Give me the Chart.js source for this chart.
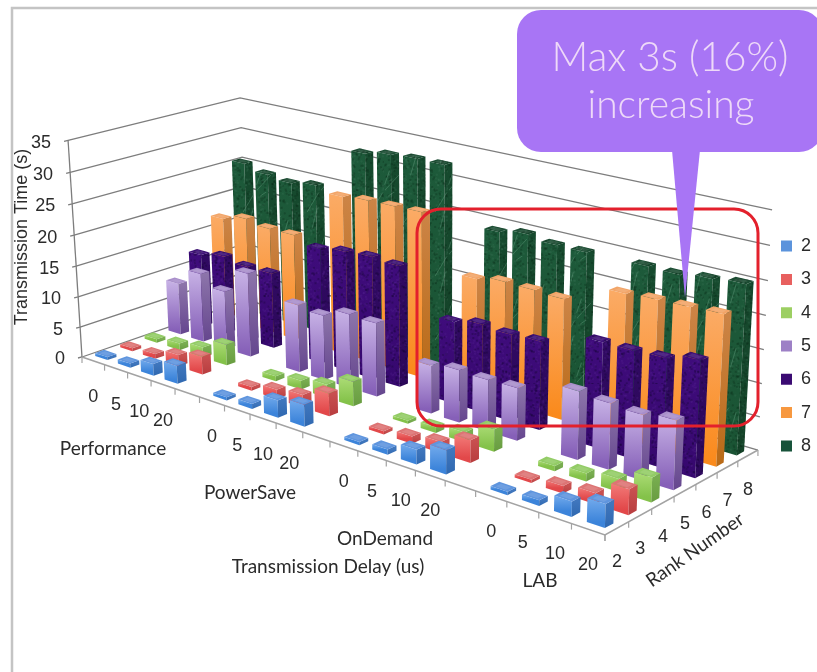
<!DOCTYPE html>
<html>
<head>
<meta charset="utf-8">
<title>Transmission Time</title>
<script src="https://cdn.jsdelivr.net/npm/chart.js@4"></script>
<style>
  html, body { margin: 0; padding: 0; background: #fff; }
  canvas { display: block; }
</style>
</head>
<body>
<canvas id="myChart" width="817" height="672"></canvas>
<script>
// delay slots, with an empty slot between the four governor groups
var delayLabels = ['0','5','10','20','','0','5','10','20','','0','5','10','20','','0','5','10','20'];
var rankLabels = ['2','3','4','5','6','7','8'];
var groupLabels = ['Performance','PowerSave','OnDemand','LAB'];

// transmission time in seconds, one list per rank
var rank2 = [0.5,0.7,1.9,2.9,null,0.5,0.8,2.7,3.4,null,0.5,0.8,2.2,3.6,null,0.5,0.8,2.2,3.4];
var rank3 = [0.5,0.8,1.9,2.9,null,0.6,1.5,2.0,3.6,null,0.5,1.1,1.7,3.4,null,0.5,1.1,1.6,3.7];
var rank4 = [0.6,1.1,1.7,3.4,null,0.8,1.4,2.1,3.9,null,0.5,0.9,1.5,3.4,null,0.8,1.2,1.9,3.6];
var rank5 = [8.6,11.4,9.6,13.7,null,10.9,10.4,11.8,11.6,null,7.5,8.1,7.9,8.0,null,10.2,9.8,9.5,10.1];
var rank6 = [12.2,13.0,12.4,12.4,null,18.6,19.2,19.5,19.2,null,12.8,13.6,13.3,13.5,null,15.9,15.9,16.1,17.1];
var rank7 = [17.1,18.1,17.5,17.5,null,25.7,26.1,26.2,26.3,null,18.1,18.8,18.7,18.5,null,21.6,21.9,22.0,22.2];
var rank8 = [25.3,24.4,23.9,24.5,null,31.5,32.2,32.5,32.5,null,24.1,24.8,24.2,24.2,null,24.3,24.2,24.7,25.1];
var rankSeries = [rank2, rank3, rank4, rank5, rank6, rank7, rank8];

var legendColors = ['#5b93dc','#e8605f','#9ccf62','#9d80c6','#3a0a72','#f7983f','#17533a'];

// face colours per rank
var faces = [
  {top:'#5f95de', lt:'#72aaec', lb:'#3c84da', rt:'#3f76bd', rb:'#2f68b0'},
  {top:'#dd7474', lt:'#f27a78', lb:'#e2484a', rt:'#c85050', rb:'#b83c3e'},
  {top:'#93cc66', lt:'#acdc76', lb:'#84c24a', rt:'#78ad50', rb:'#689c40'},
  {top:'#a98fcb', lt:'#c8b3e6', lb:'#8660b8', rt:'#8c74aa', rb:'#65468e'},
  {top:'#3d1076', lt:'#3f0c7c', lb:'#36086e', rt:'#300a62', rb:'#2c085a', tex:'noise'},
  {top:'#f2a568', lt:'#fbab66', lb:'#fa8a1c', rt:'#cc8446', rb:'#b96a16'},
  {top:'#1b4c32', lt:'#1d5a3a', lb:'#1a5434', rt:'#164a2e', rb:'#144228', tex:'marble'}
];

// 3x4 camera: floor fractions u, v and height fraction w to page pixels
function project(u, v, w) {
  var d = 1 - 0.1884 * u + 0.0799 * v - 0.0377 * w;
  return {
    x: (409 * u + 184.7 * v - 16.5 * w + 82) / d,
    y: (77.2 * u - 33 * v - 222 * w + 357) / d
  };
}

function makeTexture(kind) {
  var c = document.createElement('canvas');
  c.width = 64; c.height = 64;
  var g = c.getContext('2d');
  var seed = kind === 'noise' ? 17 : 91;
  function next() { seed = (seed * 1103515245 + 12345) & 0x7fffffff; return seed / 0x7fffffff; }
  for (var i = 0; i < 420; i++) {
    var a = next(), b = next(), s = next();
    g.fillStyle = s > 0.5 ? 'rgba(90,40,150,0.22)' : 'rgba(15,0,40,0.28)';
    if (kind === 'marble') g.fillStyle = s > 0.55 ? 'rgba(70,130,100,0.18)' : 'rgba(5,30,15,0.25)';
    g.fillRect(a * 64, b * 64, 2, 2);
  }
  if (kind === 'marble') {
    g.strokeStyle = 'rgba(130,185,155,0.3)';
    g.lineWidth = 1;
    for (var k = 0; k < 7; k++) {
      var x0 = next() * 64, y0 = next() * 64;
      g.beginPath();
      g.moveTo(x0, y0);
      g.lineTo(x0 + 10 * next() + 4, y0 - 16 * next() - 6);
      g.stroke();
    }
  }
  return c;
}

function poly(ctx, pts, fill) {
  ctx.beginPath();
  ctx.moveTo(pts[0].x, pts[0].y);
  for (var i = 1; i < pts.length; i++) ctx.lineTo(pts[i].x, pts[i].y);
  ctx.closePath();
  ctx.fillStyle = fill;
  ctx.fill();
}

function vGrad(ctx, a, b, c0, c1) {
  var g = ctx.createLinearGradient(0, a.y, 0, b.y);
  g.addColorStop(0, c0);
  g.addColorStop(1, c1);
  return g;
}

function drawBox(ctx, uc, vc, w, face, pattern) {
  var du = 0.54 / 19 / 2, dv = 0.36 / 7 / 2;
  var a = project(uc - du, vc - dv, 0), b = project(uc + du, vc - dv, 0), c = project(uc + du, vc + dv, 0);
  var at = project(uc - du, vc - dv, w), bt = project(uc + du, vc - dv, w);
  var ct = project(uc + du, vc + dv, w), dt = project(uc - du, vc + dv, w);
  var left = [a, b, bt, at], right = [b, c, ct, bt], top = [at, bt, ct, dt];

  poly(ctx, left, vGrad(ctx, at, a, face.lt, face.lb));
  poly(ctx, right, vGrad(ctx, bt, b, face.rt, face.rb));
  if (pattern) {
    poly(ctx, left, pattern);
    poly(ctx, right, pattern);
  }
  poly(ctx, top, face.top);
  if (pattern) poly(ctx, top, pattern);

  // small bevel highlight round the lid
  var mid = project(uc, vc, w);
  var inner = top.map(function (p) { return { x: mid.x + (p.x - mid.x) * 0.6, y: mid.y + (p.y - mid.y) * 0.6 }; });
  poly(ctx, inner, 'rgba(255,255,255,0.10)');
}

var scene3d = {
  id: 'scene3d',
  beforeDraw: function (chart) {
    var ctx = chart.ctx;
    // slide frame
    ctx.save();
    ctx.strokeStyle = '#c4c4c4';
    ctx.lineWidth = 2.5;
    ctx.beginPath();
    ctx.moveTo(12, 672);
    ctx.lineTo(12, 8);
    ctx.lineTo(817, 8);
    ctx.stroke();
    ctx.restore();
  },
  beforeDatasetsDraw: function (chart) {
    var ctx = chart.ctx, sx = chart.scales.x, sy = chart.scales.y, sr = chart.scales.rank;
    function fracU(i) { return (sx.getPixelForValue(i) - sx.left) / sx.width; }
    function fracV(i) { return (sr.getPixelForValue(i) - sr.left) / sr.width; }
    function fracW(val) { return (sy.bottom - sy.getPixelForValue(val)) / sy.height; }

    ctx.save();
    // walls
    ctx.strokeStyle = '#7d7d7d';
    ctx.lineWidth = 1.3;
    sy.ticks.forEach(function (t) {
      var w = fracW(t.value);
      var p0 = project(0, 0, w), p1 = project(0, 1, w), p2 = project(1, 1, w);
      ctx.beginPath();
      ctx.moveTo(p0.x - 4, p0.y + 1);
      ctx.lineTo(p0.x, p0.y);
      ctx.lineTo(p1.x, p1.y);
      ctx.lineTo(p2.x, p2.y);
      ctx.stroke();
    });
    var e0 = project(0, 0, 0), e1 = project(0, 0, 1), e2 = project(1, 0, 0), e3 = project(1, 1, 0);
    ctx.beginPath();
    ctx.moveTo(e1.x, e1.y);
    ctx.lineTo(e0.x, e0.y);
    ctx.stroke();
    // floor edges and their ticks
    ctx.strokeStyle = '#a3a3a3';
    ctx.lineWidth = 1.6;
    ctx.beginPath();
    ctx.moveTo(e0.x, e0.y);
    ctx.lineTo(e2.x, e2.y);
    ctx.lineTo(e3.x, e3.y);
    ctx.stroke();
    ctx.lineWidth = 1.2;
    var i, p;
    for (i = 0; i <= delayLabels.length; i++) {
      p = project(i / delayLabels.length, 0, 0);
      ctx.beginPath(); ctx.moveTo(p.x, p.y); ctx.lineTo(p.x, p.y + 6); ctx.stroke();
    }
    for (i = 0; i <= rankLabels.length; i++) {
      p = project(1, i / rankLabels.length, 0);
      ctx.beginPath(); ctx.moveTo(p.x, p.y); ctx.lineTo(p.x, p.y + 6); ctx.stroke();
    }

    // far bars first: back rank to front, left delay to right
    var patterns = faces.map(function (f) {
      return f.tex ? ctx.createPattern(makeTexture(f.tex), 'repeat') : null;
    });
    for (var r = rankLabels.length - 1; r >= 0; r--) {
      var values = chart.data.datasets[r].data;
      for (i = 0; i < values.length; i++) {
        if (values[i] === null) continue;
        drawBox(ctx, fracU(i), fracV(r), fracW(values[i]), faces[r], patterns[r]);
      }
    }
    ctx.restore();
  },
  // the bars above replace the flat ones
  beforeDatasetDraw: function () { return false; },
  afterDraw: function (chart) {
    var ctx = chart.ctx, sy = chart.scales.y, sx = chart.scales.x, sr = chart.scales.rank;
    ctx.save();
    ctx.fillStyle = '#2b2b2b';
    ctx.textBaseline = 'middle';

    // value ticks
    ctx.font = '18px "Liberation Sans"';
    ctx.textAlign = 'right';
    sy.ticks.forEach(function (t) {
      var w = (sy.bottom - sy.getPixelForValue(t.value)) / sy.height;
      var p = project(0, 0, w);
      ctx.fillText(String(t.value), p.x - 17, p.y + 2.5);
    });

    // delay and rank ticks
    ctx.textAlign = 'center';
    delayLabels.forEach(function (txt, i) {
      if (!txt) return;
      var p = project((sx.getPixelForValue(i) - sx.left) / sx.width, 0, 0);
      ctx.fillText(txt, p.x, p.y + 36);
    });
    rankLabels.forEach(function (txt, i) {
      var p = project(1, (sr.getPixelForValue(i) - sr.left) / sr.width, 0);
      ctx.fillText(txt, p.x, p.y + 34);
    });

    // value axis title
    ctx.save();
    ctx.translate(22, 237);
    ctx.rotate(-Math.PI / 2);
    ctx.font = '18px "Liberation Sans"';
    ctx.fillText('Transmission Time (s)', 0, 0);
    ctx.restore();

    // group and axis titles
    ctx.font = '19px Lato';
    ctx.fillText(groupLabels[0], 113, 449);
    ctx.fillText(groupLabels[1], 250, 493);
    ctx.fillText(groupLabels[2], 385, 539);
    ctx.fillText(groupLabels[3], 540, 581);
    ctx.fillText('Transmission Delay (us)', 328, 567);
    ctx.save();
    ctx.translate(695, 550);
    ctx.rotate(-35 * Math.PI / 180);
    ctx.fillText('Rank Number', 0, 0);
    ctx.restore();

    // highlight box
    ctx.strokeStyle = '#e3202c';
    ctx.lineWidth = 3;
    ctx.beginPath();
    ctx.roundRect(417, 209, 341, 217, 24);
    ctx.stroke();

    // callout
    ctx.fillStyle = '#a875f5';
    ctx.beginPath();
    ctx.roundRect(517, 10, 306, 142, 24);
    ctx.fill();
    ctx.beginPath();
    ctx.moveTo(672, 150);
    ctx.lineTo(700, 150);
    ctx.lineTo(685, 298);
    ctx.closePath();
    ctx.fill();
    ctx.fillStyle = '#eed9f8';
    ctx.textBaseline = 'alphabetic';
    ctx.font = '300 40.5px Lato';
    ctx.fillText('Max 3s (16%)', 670, 71);
    ctx.font = '300 39px Lato';
    ctx.fillText('increasing', 671, 118);
    ctx.restore();
  }
};

var datasets = rankLabels.map(function (r, k) {
  return { label: r, data: rankSeries[k], backgroundColor: legendColors[k] };
});

var chart_3d = new Chart(document.getElementById('myChart').getContext('2d'), {
  type: 'bar',
  data: { labels: delayLabels, datasets: datasets },
  options: {
    responsive: false,
    animation: false,
    layout: { padding: { top: 20, right: -4 } },
    plugins: {
      tooltip: { enabled: false },
      legend: {
        position: 'right',
        labels: {
          boxWidth: 11, boxHeight: 11, padding: 15.3,
          color: '#2b2b2b',
          font: { size: 18, family: '"Liberation Sans"' }
        }
      }
    },
    scales: {
      x: { type: 'category', offset: true, display: false },
      rank: { type: 'category', axis: 'x', labels: rankLabels, offset: true, display: false },
      y: { type: 'linear', min: 0, max: 35, ticks: { stepSize: 5 }, display: false }
    }
  },
  plugins: [scene3d]
});
</script>
</body>
</html>
